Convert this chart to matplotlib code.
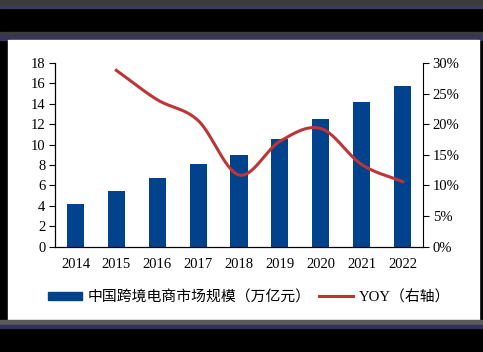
import numpy as np
import matplotlib
matplotlib.use('Agg')
import matplotlib.pyplot as plt
from matplotlib.patches import Rectangle
from matplotlib.lines import Line2D
from matplotlib.ticker import FuncFormatter

plt.rcParams['font.family'] = ['Liberation Serif', 'Noto Sans CJK SC']

years = ['2014', '2015', '2016', '2017', '2018', '2019', '2020', '2021', '2022']
scale = [4.2, 5.4, 6.7, 8.06, 9.0, 10.5, 12.5, 14.2, 15.7]
yoy_years = years[1:]
yoy = [28.8, 24.0, 20.6, 11.7, 17.2, 19.3, 13.4, 10.6]

BAR = '#00438C'
LINE = '#BF3434'


def catmull_rom(x, y, n=30):
    # smoothed line like the office "smooth line" option
    x = np.asarray(x, float)
    y = np.asarray(y, float)
    px = np.concatenate([[2 * x[0] - x[1]], x, [2 * x[-1] - x[-2]]])
    py = np.concatenate([[2 * y[0] - y[1]], y, [2 * y[-1] - y[-2]]])
    xs, ys = [], []
    t = np.linspace(0, 1, n)
    for i in range(1, len(px) - 2):
        for p, out in ((px, xs), (py, ys)):
            p0, p1, p2, p3 = p[i - 1], p[i], p[i + 1], p[i + 2]
            out.extend(0.5 * (2 * p1 + (-p0 + p2) * t
                              + (2 * p0 - 5 * p1 + 4 * p2 - p3) * t ** 2
                              + (-p0 + 3 * p1 - 3 * p2 + p3) * t ** 3))
    return np.array(xs), np.array(ys)


fig = plt.figure(figsize=(4.83, 3.52), dpi=100)
fig.patch.set_facecolor('black')

W, H = 483, 352
def frect(x, y, w, h, c):
    fig.patches.append(Rectangle((x / W, 1 - (y + h) / H), w / W, h / H,
                                 transform=fig.transFigure, color=c, zorder=-10))

frect(0, 0, W, 6, '#3c3c3c')
frect(0, 6, W, 2, '#3a3a5e')
frect(0, 32, W, 3, '#3c3c3c')
frect(0, 35, W, 5, '#35365a')
frect(8, 40, 471, 280, 'white')
frect(0, 320, W, 5, '#5a5a5a')
frect(0, 325, W, 3, '#303058')

ax = fig.add_axes([55 / W, 1 - 246.5 / H, 368 / W, 183.5 / H])
ax.set_facecolor('white')
x = np.arange(len(years))
ax.bar(x, scale, width=0.42, color=BAR, zorder=2)
ax.set_xlim(-0.5, len(years) - 0.5)
ax.set_ylim(0, 18)
ax.set_yticks(range(0, 19, 2))
ax.set_xticks(x)
ax.set_xticklabels(years)
ax.tick_params(axis='x', length=0, labelsize=10.5, pad=8)
ax.tick_params(axis='y', direction='out', length=4, labelsize=10.5, pad=3)
ax.spines['top'].set_visible(False)
ax.spines['right'].set_visible(False)

ax2 = ax.twinx()
xi = [years.index(v) for v in yoy_years]
sx, sy = catmull_rom(xi, yoy)
ax2.plot(sx, sy, color=LINE, lw=2.2, zorder=3)
ax2.set_ylim(0, 30)
ax2.set_yticks(range(0, 31, 5))
ax2.yaxis.set_major_formatter(FuncFormatter(lambda v, p: '%d%%' % v))
ax2.tick_params(axis='y', direction='out', length=4, labelsize=10.5, pad=3)
ax2.spines['top'].set_visible(False)

handles = [Rectangle((0, 0), 1, 1, color=BAR),
           Line2D([0], [0], color=LINE, lw=2.2)]
labels = ['中国跨境电商市场规模（万亿元）', 'YOY（右轴）']
fig.legend(handles, labels, loc='center', bbox_to_anchor=(249 / W, 1 - 297 / H),
           ncol=2, frameon=False, fontsize=10.7, handlelength=2.3,
           handleheight=0.45, columnspacing=0.5, handletextpad=0.4)

fig.savefig('out.png', dpi=100, facecolor=fig.get_facecolor())
